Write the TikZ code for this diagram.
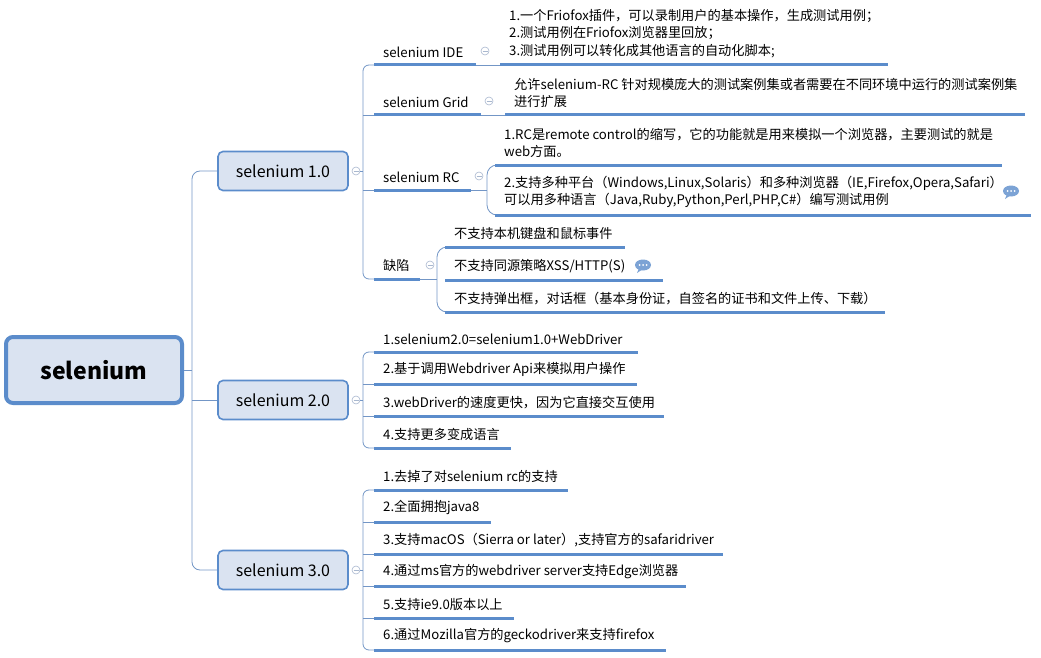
\documentclass[tikz,border=0pt]{standalone}
\usepackage{fontspec}
\setmainfont{Noto Sans CJK SC}
\usetikzlibrary{positioning}

\definecolor{boxfill}{HTML}{DAE3F1}
\definecolor{boxline}{HTML}{5B8CCB}
\definecolor{thinline}{HTML}{7396C6}
\definecolor{knob}{HTML}{A9B8CF}

\tikzset{
  rootbox/.style={draw=boxline, fill=boxfill, line width=4pt, rounded corners=7pt,
    minimum width=176pt, minimum height=66pt, font=\fontsize{23}{26}\selectfont\bfseries},
  mainbox/.style={draw=boxline, fill=boxfill, line width=1.6pt, rounded corners=5pt,
    minimum width=130pt, minimum height=39pt, font=\fontsize{16}{19}\selectfont},
  conn/.style={draw=thinline, line width=0.8pt},
  uline/.style={draw=boxline, line width=3pt},
  txt/.style={anchor=south west, inner sep=1pt, align=left, font=\fontsize{13.2}{17.5}\selectfont},
  knobc/.style={draw=knob, fill=white, circle, inner sep=0pt, minimum size=8pt, line width=0.6pt}
}

% underlined topic: name, x start, y, x end, text
\newcommand{\topic}[5]{%
  \node[txt] (#1) at (#2+8,#3-6) {#5};
  \draw[uline] (#2,#3) -- (#4,#3);
}
\newcommand{\knob}[3]{%
  \node[knobc] (#1) at (#2,#3) {};
  \draw[knob, line width=0.6pt] (#2-2.5,#3) -- (#2+2.5,#3);
}
\newcommand{\chat}[2]{%
  \fill[boxline!80] (#1,#2) ellipse (8pt and 5.5pt);
  \fill[boxline!80] (#1-4,#2+3) -- (#1-6,#2+8) -- (#1,#2+4) -- cycle;
  \foreach \dx in {-3.5,0,3.5} \fill[white] (#1+\dx,#2) circle (1pt);
}

\begin{document}
\begin{tikzpicture}[x=1pt,y=-1pt]
\useasboundingbox (0,0) rectangle (1041,658);

% Main nodes
\node[rootbox] (root) at (94,370) {selenium};
\node[mainbox] (v1) at (283,171) {selenium 1.0};
\node[mainbox] (v2) at (283,400) {selenium 2.0};
\node[mainbox] (v3) at (283,570) {selenium 3.0};

% Root connectors
\draw[conn] (root.east) -- (192,370);
\draw[conn, rounded corners=8pt] (v1.west) -- (192,171) -- (192,570) -- (v3.west);
\draw[conn] (v2.west) -- (192,400);

% selenium 1.0
\knob{k1}{356}{171}
\draw[conn] (k1.east) -- (363,171);
\draw[conn, rounded corners=6pt] (374,65) -- (363,65) -- (363,279) -- (374,279);
\draw[conn] (363,115) -- (374,115);
\draw[conn] (363,190) -- (374,190);

\topic{ide}{374}{65}{476}{selenium IDE}
\knob{kide}{485}{51}
\draw[conn] (476,65) -- (500,65);
\topic{ideinfo}{500}{65}{888}{1.一个Friofox插件，可以录制用户的基本操作，生成测试用例；\\2.测试用例在Friofox浏览器里回放；\\3.测试用例可以转化成其他语言的自动化脚本;}

\topic{grid}{374}{115}{481}{selenium Grid}
\knob{kgrid}{489}{101}
\draw[conn] (481,115) -- (505,115);
\topic{gridinfo}{505}{115}{1025}{允许selenium-RC 针对规模庞大的测试案例集或者需要在不同环境中运行的测试案例集\\进行扩展}

\topic{rc}{374}{190}{471}{selenium RC}
\knob{krc}{479}{176}
\draw[conn] (471,190) -- (487,190);
\draw[conn, rounded corners=10pt] (495,165) -- (487,165) -- (487,215) -- (495,215);
\topic{rcone}{495}{165}{1002}{1.RC是remote control的缩写，它的功能就是用来模拟一个浏览器，主要测试的就是\\web方面。}
\topic{rctwo}{495}{215}{1031}{2.支持多种平台（Windows,Linux,Solaris）和多种浏览器（IE,Firefox,Opera,Safari）\\可以用多种语言（Java,Ruby,Python,Perl,PHP,C\#）编写测试用例}
\chat{1011}{191}

\topic{flaw}{374}{279}{420}{缺陷}
\knob{kflaw}{430}{265}
\draw[conn] (420,279) -- (437,279);
\draw[conn, rounded corners=10pt] (445,247) -- (437,247) -- (437,312) -- (445,312);
\topic{flawa}{445}{247}{625}{不支持本机键盘和鼠标事件}
\topic{flawb}{445}{280}{663}{不支持同源策略XSS/HTTP(S)}
\chat{643}{265}
\topic{flawc}{445}{312}{885}{不支持弹出框，对话框（基本身份证，自签名的证书和文件上传、下载）}

% selenium 2.0
\knob{k2}{356}{400}
\draw[conn] (k2.east) -- (363,400);
\draw[conn, rounded corners=6pt] (374,352) -- (363,352) -- (363,448) -- (374,448);
\draw[conn] (363,384) -- (374,384);
\draw[conn] (363,416) -- (374,416);
\topic{twoa}{374}{352}{638}{1.selenium2.0=selenium1.0+WebDriver}
\topic{twob}{374}{384}{637}{2.基于调用Webdriver Api来模拟用户操作}
\topic{twoc}{374}{416}{664}{3.webDriver的速度更快，因为它直接交互使用}
\topic{twod}{374}{448}{511}{4.支持更多变成语言}

% selenium 3.0
\knob{k3}{356}{570}
\draw[conn] (k3.east) -- (363,570);
\draw[conn, rounded corners=6pt] (374,490) -- (363,490) -- (363,650) -- (374,650);
\foreach \yy in {522,554,586,618} \draw[conn] (363,\yy) -- (374,\yy);
\topic{threea}{374}{490}{568}{1.去掉了对selenium rc的支持}
\topic{threeb}{374}{522}{491}{2.全面拥抱java8}
\topic{threec}{374}{554}{723}{3.支持macOS（Sierra or later）,支持官方的safaridriver}
\topic{threed}{374}{586}{686}{4.通过ms官方的webdriver server支持Edge浏览器}
\topic{threee}{374}{618}{514}{5.支持ie9.0版本以上}
\topic{threef}{374}{650}{666}{6.通过Mozilla官方的geckodriver来支持firefox}
\end{tikzpicture}
\end{document}
